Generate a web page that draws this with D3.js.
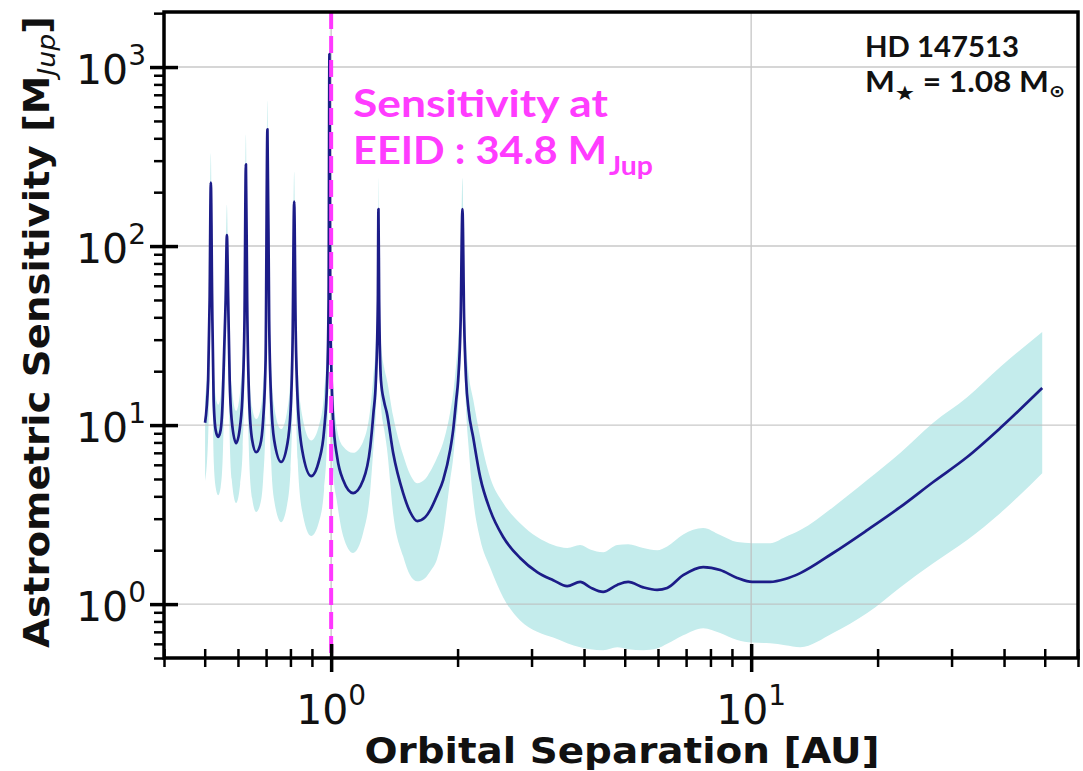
<!DOCTYPE html>
<html>
<head>
<meta charset="utf-8">
<script src="https://cdn.jsdelivr.net/npm/d3@7"></script>
<style>
  body { margin: 0; background: #fff; }
  svg { display: block; }
</style>
</head>
<body>
<svg id="chart" width="1083" height="771"></svg>
<script>
// Orbital separation grid (AU)
const sepAU = [
  0.501, 0.5095, 0.5137, 0.5171, 0.5208, 0.5251, 0.5309, 0.5383, 0.5457, 0.5518,
  0.5563, 0.5609, 0.5647, 0.5687, 0.5734, 0.5797, 0.594, 0.6074, 0.6158, 0.6219,
  0.6267, 0.631, 0.638, 0.6485, 0.6629, 0.6776, 0.6888, 0.6982, 0.7052, 0.7119,
  0.7197, 0.7317, 0.7603, 0.7857, 0.8007, 0.8096, 0.8165, 0.8233, 0.8322, 0.8531,
  0.8962, 0.9363, 0.9623, 0.9783, 0.9863, 0.9907, 0.9945, 1.011, 1.0335, 1.068,
  1.128, 1.192, 1.239, 1.261, 1.278, 1.292, 1.296, 1.301, 1.314, 1.337,
  1.357, 1.405, 1.484, 1.542, 1.603, 1.675, 1.721, 1.788, 1.848, 1.92,
  1.952, 1.985, 2.006, 2.034, 2.054, 2.073, 2.096, 2.125, 2.178, 2.264,
  2.391, 2.568, 2.818, 3.094, 3.379, 3.648, 3.916, 4.137, 4.442, 4.797,
  5.095, 5.534, 5.973, 6.31, 6.889, 7.687, 8.437, 9.262, 10.05, 11.1,
  12.05, 13.09, 15.67, 18.89, 22.63, 27.13, 32.68, 39.17, 49.31
];

// Median astrometric sensitivity (M_Jup)
const sensMid = [
  10.3, 17.8, 50, 226, 50, 13.8, 9.4, 8.6, 9.4, 13.8,
  26.2, 50, 115, 50, 17.8, 10.7, 7.93, 10.0, 15.7, 38.6,
  286, 50, 13.8, 8.25, 7.06, 7.73, 10.7, 23.1, 449, 38.6,
  13.8, 8.25, 6.22, 7.73, 12.1, 29.8, 177, 34, 13.8, 7.25,
  5.19, 6.37, 9.4, 17.8, 50, 1183, 50, 10.7, 6.63, 4.93,
  4.17, 4.93, 7.54, 11.7, 17.8, 50, 161, 50, 17.8, 13.5,
  11.7, 6.98, 4.17, 3.27, 2.91, 3.06, 3.35, 4.06, 4.93, 7.25,
  9.38, 13.8, 17.8, 38.6, 161, 38.6, 17.8, 12.1, 8.57, 5.12,
  3.35, 2.37, 1.81, 1.51, 1.36, 1.26, 1.33, 1.24, 1.17, 1.28,
  1.33, 1.24, 1.20, 1.23, 1.45, 1.61, 1.55, 1.40, 1.33, 1.33,
  1.38, 1.49, 1.93, 2.59, 3.48, 4.81, 6.63, 9.62, 16.1
];

// Lower edge of the sensitivity spread (M_Jup)
const sensLo = [
  4.8, 8.5, 25, 120, 25, 6.5, 4.5, 4.06, 4.5, 6.5,
  13, 25, 60, 25, 8.5, 5.0, 3.67, 4.7, 7.5, 19,
  150, 25, 6.5, 3.9, 3.27, 3.6, 5.0, 11, 230, 19,
  6.3, 3.8, 2.87, 3.6, 5.7, 14.5, 90, 16.5, 6.4, 3.3,
  2.4, 2.9, 4.4, 8.5, 25, 600, 25, 5.5, 3.67, 2.4,
  1.93, 2.5, 4.3, 7.5, 12, 30, 85, 30, 13, 9.5,
  7.5, 3.2, 1.85, 1.45, 1.34, 1.4, 1.52, 1.79, 2.5, 4.9,
  6.5, 10, 13, 25, 85, 25, 12, 7.5, 3.9, 2.3,
  1.6, 1.09, 0.81, 0.70, 0.65, 0.605, 0.575, 0.56, 0.553, 0.575,
  0.56, 0.553, 0.565, 0.60, 0.67, 0.734, 0.69, 0.63, 0.61, 0.605,
  0.59, 0.575, 0.689, 0.891, 1.24, 1.69, 2.28, 3.22, 5.39
];

// Upper edge of the sensitivity spread (M_Jup)
const sensHi = [
  14, 28, 80, 330, 80, 22, 14.5, 13, 14.5, 22,
  42, 80, 170, 80, 28, 16.5, 12, 15.5, 25, 62,
  420, 80, 22, 12.5, 10.8, 12, 17, 38, 650, 62,
  22, 12.7, 9.5, 12, 19.5, 48, 260, 54, 22, 11.3,
  8.2, 10, 15, 29, 80, 1700, 80, 16, 9.4, 7.6,
  7.0, 8.1, 12.3, 19, 29, 80, 240, 80, 29, 21,
  18, 11.2, 6.8, 5.3, 4.74, 5.0, 5.5, 6.6, 8.0, 11.8,
  15, 22, 29, 62, 240, 62, 29, 19.5, 14, 8.6,
  5.1, 3.67, 2.83, 2.37, 2.14, 2.06, 2.14, 2.02, 1.95, 2.14,
  2.16, 2.06, 2.0, 2.1, 2.45, 2.66, 2.43, 2.22, 2.19, 2.19,
  2.37, 2.59, 3.48, 4.93, 6.98, 10.3, 14.3, 21.1, 33.1
];

// Axis ticks
const xMajorTicks = [1, 10];
const xMajorExps = ["0", "1"];
const xMinorTicks = [0.4, 0.5, 0.6, 0.7, 0.8, 0.9, 2, 3, 4, 5, 6, 7, 8, 9, 20, 30, 40, 50, 60];
const yMajorTicks = [1, 10, 100, 1000];
const yMajorExps = ["0", "1", "2", "3"];
const yMinorTicks = [0.5, 0.6, 0.7, 0.8, 0.9, 2, 3, 4, 5, 6, 7, 8, 9,
  20, 30, 40, 50, 60, 70, 80, 90, 200, 300, 400, 500, 600, 700, 800, 900, 2000];

// Habitable-zone (EEID) annotation
const eeidAU = 1.0;
const eeidSens = 34.8;
const starName = "HD 147513";
const starMass = 1.08;

const svg = d3.select("#chart");
const plot = { left: 164, right: 1078, top: 12, bottom: 658 };

const x = d3.scaleLog().domain([0.4, 60]).range([plot.left, plot.right]);
const y = d3.scaleLog().domain([0.5, 2030]).range([plot.bottom, plot.top]);

const rows = sepAU.map((a, i) => ({ a, mid: sensMid[i], lo: sensLo[i], hi: sensHi[i] }));

svg.append("defs").append("clipPath").attr("id", "plotClip")
  .append("rect")
  .attr("x", plot.left).attr("y", plot.top)
  .attr("width", plot.right - plot.left).attr("height", plot.bottom - plot.top);

const inner = svg.append("g").attr("clip-path", "url(#plotClip)");

// spread band
inner.append("path")
  .datum(rows)
  .attr("fill", "#c4ecec")
  .attr("d", d3.area()
    .x(d => x(d.a))
    .y0(d => y(d.lo))
    .y1(d => y(d.hi))
    .curve(d3.curveMonotoneX));

// grid
const grid = inner.append("g").attr("stroke", "#bdbdbd").attr("stroke-width", 1.4).attr("opacity", 0.8);
grid.selectAll("line.gx").data(xMajorTicks).join("line")
  .attr("x1", d => x(d)).attr("x2", d => x(d))
  .attr("y1", plot.top).attr("y2", plot.bottom);
grid.selectAll("line.gy").data(yMajorTicks).join("line")
  .attr("x1", plot.left).attr("x2", plot.right)
  .attr("y1", d => y(d)).attr("y2", d => y(d));

// median sensitivity curve
inner.append("path")
  .datum(rows)
  .attr("fill", "none")
  .attr("stroke", "#1c1c88")
  .attr("stroke-width", 2.7)
  .attr("stroke-linejoin", "round")
  .attr("d", d3.line()
    .x(d => x(d.a))
    .y(d => y(d.mid))
    .curve(d3.curveMonotoneX));

// EEID marker
inner.append("line")
  .attr("x1", x(eeidAU)).attr("x2", x(eeidAU))
  .attr("y1", plot.top).attr("y2", plot.bottom)
  .attr("stroke", "#ff38ff")
  .attr("stroke-width", 4)
  .attr("stroke-dasharray", "17,7");

// frame
svg.append("rect")
  .attr("x", plot.left).attr("y", plot.top)
  .attr("width", plot.right - plot.left).attr("height", plot.bottom - plot.top)
  .attr("fill", "none").attr("stroke", "#000").attr("stroke-width", 3.5);

// x axis ticks (in-out)
const xAxisMajor = svg.append("g")
  .attr("transform", `translate(0,${plot.bottom})`)
  .call(d3.axisBottom(x).tickValues(xMajorTicks).tickFormat("").tickSizeOuter(0));
xAxisMajor.select(".domain").remove();
xAxisMajor.selectAll(".tick line").attr("y1", -14).attr("y2", 14).attr("stroke-width", 3.5);

const xAxisMinor = svg.append("g")
  .attr("transform", `translate(0,${plot.bottom})`)
  .call(d3.axisBottom(x).tickValues(xMinorTicks).tickFormat("").tickSizeOuter(0));
xAxisMinor.select(".domain").remove();
xAxisMinor.selectAll(".tick line").attr("y1", -9).attr("y2", 9).attr("stroke-width", 2.5);

// y axis ticks
const yAxisMajor = svg.append("g")
  .attr("transform", `translate(${plot.left},0)`)
  .call(d3.axisLeft(y).tickValues(yMajorTicks).tickFormat("").tickSizeOuter(0));
yAxisMajor.select(".domain").remove();
yAxisMajor.selectAll(".tick line").attr("x1", 14).attr("x2", -14).attr("stroke-width", 3.5);

const yAxisMinor = svg.append("g")
  .attr("transform", `translate(${plot.left},0)`)
  .call(d3.axisLeft(y).tickValues(yMinorTicks).tickFormat("").tickSizeOuter(0));
yAxisMinor.select(".domain").remove();
yAxisMinor.selectAll(".tick line").attr("x1", 0).attr("x2", -10).attr("stroke-width", 2.5);

// tick labels: 10^n
const tickFont = "'DejaVu Sans', sans-serif";
xMajorTicks.forEach((v, i) => {
  const t = svg.append("text")
    .attr("x", x(v)).attr("y", 724)
    .attr("text-anchor", "middle")
    .attr("font-family", tickFont).attr("font-size", 41).attr("fill", "#111");
  t.append("tspan").text("10");
  t.append("tspan").attr("dy", -19).attr("font-size", 28).text(xMajorExps[i]);
});
yMajorTicks.forEach((v, i) => {
  const t = svg.append("text")
    .attr("x", 146).attr("y", y(v) + 17)
    .attr("text-anchor", "end")
    .attr("font-family", tickFont).attr("font-size", 41).attr("fill", "#111");
  t.append("tspan").text("10");
  t.append("tspan").attr("dy", -19).attr("font-size", 28).text(yMajorExps[i]);
});

// axis titles
svg.append("text")
  .attr("x", (plot.left + plot.right) / 2 + 1).attr("y", 763)
  .attr("text-anchor", "middle")
  .attr("font-family", tickFont).attr("font-weight", "bold").attr("font-size", 35)
  .attr("textLength", 515).attr("lengthAdjust", "spacingAndGlyphs")
  .attr("fill", "#111")
  .text("Orbital Separation [AU]");

const yTitle = svg.append("text")
  .attr("transform", "translate(49,332) rotate(-90)")
  .attr("text-anchor", "middle")
  .attr("font-family", tickFont).attr("font-weight", "bold").attr("font-size", 36)
  .attr("textLength", 632).attr("lengthAdjust", "spacingAndGlyphs")
  .attr("fill", "#111");
yTitle.append("tspan").text("Astrometric Sensitivity [M");
yTitle.append("tspan").attr("font-style", "italic").attr("font-weight", "normal")
  .attr("font-size", 25).attr("dy", 6).text("Jup");
yTitle.append("tspan").attr("dy", -6).text("]");

// EEID annotation
const annoFont = "Lato, 'Open Sans', sans-serif";
const magenta = "#ff3cff";
svg.append("text")
  .attr("x", 353).attr("y", 117)
  .attr("font-family", annoFont).attr("font-weight", "bold").attr("font-size", 38)
  .attr("textLength", 255).attr("lengthAdjust", "spacingAndGlyphs")
  .attr("fill", magenta)
  .text("Sensitivity at");
const eeidText = svg.append("text")
  .attr("x", 353).attr("y", 164)
  .attr("font-family", annoFont).attr("font-weight", "bold").attr("font-size", 38)
  .attr("fill", magenta);
eeidText.append("tspan")
  .attr("textLength", 254).attr("lengthAdjust", "spacingAndGlyphs")
  .text(`EEID : ${eeidSens.toFixed(1)} M`);
eeidText.append("tspan").attr("x", 609).attr("font-size", 26).attr("dy", 11)
  .attr("textLength", 44).attr("lengthAdjust", "spacingAndGlyphs")
  .text("Jup");

// star info
svg.append("text")
  .attr("x", 865).attr("y", 57)
  .attr("font-family", annoFont).attr("font-weight", "bold").attr("font-size", 28)
  .attr("textLength", 154).attr("lengthAdjust", "spacingAndGlyphs")
  .attr("fill", "#111")
  .text(starName);
const massText = svg.append("text")
  .attr("x", 865).attr("y", 92)
  .attr("font-family", annoFont).attr("font-weight", "bold").attr("font-size", 28)
  .attr("textLength", 200).attr("lengthAdjust", "spacingAndGlyphs")
  .attr("fill", "#111");
massText.append("tspan").text("M");
massText.append("tspan").attr("font-size", 20).attr("dy", 8).attr("font-family", "'DejaVu Sans', sans-serif").text("★");
massText.append("tspan").attr("dy", -8).text(` = ${starMass.toFixed(2)} M`);
massText.append("tspan").attr("font-size", 17).attr("dy", 5).attr("font-family", "'DejaVu Sans', sans-serif").text("⊙");
</script>
</body>
</html>
